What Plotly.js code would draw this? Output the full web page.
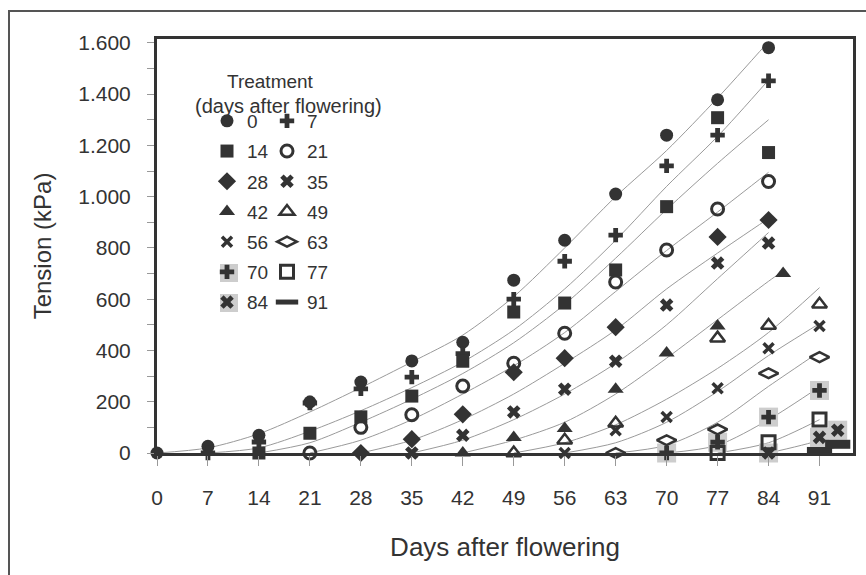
<!DOCTYPE html>
<html>
<head>
<meta charset="utf-8">
<script src="https://cdn.plot.ly/plotly-3.0.1.min.js"></script>
<style>html,body{margin:0;padding:0;background:#fff;}#chart{width:866px;height:575px;}</style>
</head>
<body>
<div id="chart"></div>
<script>
// Treatments (days after flowering)
const treatments = ["0","7","14","21","28","35","42","49","56","63","70","77","84","91"];
const yTickVals = [0,200,400,600,800,1000,1200,1400,1600];
const yTickText = ["0","200","400","600","800","1.000","1.200","1.400","1.600"];
const xTickVals = [0,7,14,21,28,35,42,49,56,63,70,77,84,91];

// Measured points (x = day, y = tension kPa)
const m0x  = [0,7,14,21,28,35,42,49,56,63,70,77,84];
const m0y  = [0,26,69,199,277,359,432,674,830,1010,1240,1378,1581];
const m7x  = [7,14,21,28,35,42,49,56,63,70,77,84];
const m7y  = [0,43,195,250,296,388,600,748,850,1120,1240,1452];
const m14x = [14,21,28,35,42,49,56,63,70,77,84];
const m14y = [0,77,141,222,358,550,585,714,961,1308,1172];
const m21x = [21,28,35,42,49,56,63,70,77,84];
const m21y = [0,100,149,261,350,467,667,792,952,1059];
const m28x = [28,35,42,49,56,63,77,84];
const m28y = [0,54,151,315,370,491,843,909];
const m35x = [35,42,49,56,63,70,77,84];
const m35y = [0,69,160,249,358,577,741,819];
const m42x = [42,49,56,63,70,77,86];
const m42y = [0,60,96,249,390,495,700];
const m49x = [49,56,63,77,84,91];
const m49y = [0,50,116,448,497,580];
const m56x = [56,63,70,77,84,91];
const m56y = [0,89,140,253,409,495];
const m63x = [63,70,77,84,91];
const m63y = [0,50,92,311,374];
const m70x = [70,77,84,91];
const m70y = [0,42,140,244];
const m77x = [77,84,91];
const m77y = [0,42,131];
const m84x = [84,91,93.5];
const m84y = [0,61,89];
const m91x = [91,93.5];
const m91y = [6,34];

// Fitted curves
const c0x  = [0,7,14,21,28,35,42,49,56,63,70,77,84];
const c0y  = [0,20,75,160,255,355,460,610,800,1000,1180,1385,1605];
const c7x  = [7,14,21,28,35,42,49,56,63,70,77,84];
const c7y  = [0,20,85,165,255,355,480,640,830,1040,1235,1455];
const c14x = [14,21,28,35,42,49,56,63,70,77,84];
const c14y = [0,40,120,210,310,430,580,760,950,1130,1300];
const c21x = [21,28,35,42,49,56,63,70,77,84];
const c21y = [0,50,130,230,340,470,630,790,940,1095];
const c28x = [28,35,42,49,56,63,70,77,84];
const c28y = [0,50,130,230,350,480,640,780,915];
const c35x = [35,42,49,56,63,70,77,84];
const c35y = [0,50,130,230,350,500,680,860];
const c42x = [42,49,56,63,70,77,84,86];
const c42y = [0,50,120,230,370,520,670,710];
const c49x = [49,56,63,70,77,84,91];
const c49y = [0,40,110,210,330,470,645];
const c56x = [56,63,70,77,84,91];
const c56y = [0,40,120,240,380,505];
const c63x = [63,70,77,84,91];
const c63y = [0,30,120,260,395];
const c70x = [70,77,84,91];
const c70y = [0,30,130,258];
const c77x = [77,84,91];
const c77y = [0,40,130];
const c84x = [84,91,94];
const c84y = [0,50,90];
const c91x = [91,94.5];
const c91y = [0,35];

const DARK = '#333333';
const CURVE = '#9a9a9a';
const GRAYBG = '#cdcdcd';
const FONT = 'Liberation Sans, Arial, sans-serif';

const curves = [
  [c0x,c0y],[c7x,c7y],[c14x,c14y],[c21x,c21y],[c28x,c28y],[c35x,c35y],[c42x,c42y],
  [c49x,c49y],[c56x,c56y],[c63x,c63y],[c70x,c70y],[c77x,c77y],[c84x,c84y],[c91x,c91y]
];
const points = [
  [m0x,m0y],[m7x,m7y],[m14x,m14y],[m21x,m21y],[m28x,m28y],[m35x,m35y],[m42x,m42y],
  [m49x,m49y],[m56x,m56y],[m63x,m63y],[m70x,m70y],[m77x,m77y],[m84x,m84y],[m91x,m91y]
];
const symbols = [
  {symbol:'circle', size:13},
  {symbol:'cross', size:12},
  {symbol:'square', size:13},
  {symbol:'circle-open', size:12, lw:3},
  {symbol:'diamond', size:14},
  {symbol:'x', size:12},
  {symbol:'triangle-up', size:14},
  {symbol:'triangle-up-open', size:13, lw:2.5},
  {symbol:'x-thin-open', size:10, lw:3.5},
  {symbol:'diamond-wide-open', size:14, lw:2.5},
  {symbol:'cross', size:12},
  {symbol:'square-open', size:13, lw:3},
  {symbol:'x', size:12},
  {symbol:'line-ew-open', size:18, lw:9}
];

const traces = [];
curves.forEach((c,i) => {
  traces.push({x:c[0], y:c[1], type:'scatter', mode:'lines', hoverinfo:'skip',
    line:{color:CURVE, width:1, shape:'spline', smoothing:0.8}, showlegend:false});
});
// gray background squares for 70 and 84
[10,12].forEach(i => {
  traces.push({x:points[i][0], y:points[i][1], type:'scatter', mode:'markers', cliponaxis:false,
    marker:{symbol:'square', size:19, color:GRAYBG}, showlegend:false, legendgroup:'g'+i, hoverinfo:'skip'});
});
points.forEach((p,i) => {
  const s = symbols[i];
  const open = s.symbol.indexOf('open') >= 0;
  const mk = {symbol:s.symbol, size:s.size, color:DARK};
  if (open) mk.line = {color:DARK, width:s.lw};
  else mk.line = {width:0};
  traces.push({x:p[0], y:p[1], type:'scatter', mode:'markers', cliponaxis:false,
    name:treatments[i], marker:mk, legendgroup:'g'+i,
    legend: (i % 2 === 0) ? 'legend' : 'legend2'});
});

function px2x(px){ return (px-157)/696; }
function py2y(py){ return (453-py)/414; }

const legendCommon = {
  bgcolor:'rgba(0,0,0,0)', borderwidth:0, font:{family:FONT, size:19, color:DARK},
  tracegroupgap:2.5, yanchor:'top', xanchor:'left', itemclick:false, itemdoubleclick:false
};

const layout = {
  width:866, height:575,
  margin:{l:157, r:13, t:39, b:122, pad:0},
  paper_bgcolor:'#fff', plot_bgcolor:'#fff',
  font:{family:FONT, color:DARK},
  showlegend:true,
  legend: Object.assign({}, legendCommon, {x:px2x(207), y:py2y(102)}),
  legend2: Object.assign({}, legendCommon, {x:px2x(267), y:py2y(102)}),
  xaxis:{range:[0,95.6], tickvals:xTickVals, ticks:'outside', ticklen:10, tickcolor:'#999', tickwidth:1,
    showline:true, mirror:true, linecolor:DARK, linewidth:3, showgrid:false, zeroline:false,
    tickfont:{family:FONT, size:21, color:DARK}, ticklabelstandoff:14,
    title:{text:'Days after flowering', font:{family:FONT, size:26, color:DARK}, standoff:30}},
  yaxis:{range:[0,1615], tickvals:yTickVals, ticktext:yTickText, ticks:'outside', ticklen:7, tickcolor:'#999', tickwidth:1,
    minor:{dtick:100, tick0:0, ticks:'outside', ticklen:7, tickcolor:'#999', tickwidth:1, showgrid:false},
    showline:true, mirror:true, linecolor:DARK, linewidth:3, showgrid:false, zeroline:false,
    tickfont:{family:FONT, size:21, color:DARK}, ticklabelstandoff:12,
    title:{text:'Tension (kPa)', font:{family:FONT, size:24, color:DARK}, standoff:20}},
  shapes:[
    {type:'rect', xref:'paper', yref:'paper', x0:px2x(9), x1:px2x(880), y0:py2y(590), y1:py2y(11),
      line:{color:'#555', width:2}, fillcolor:'rgba(0,0,0,0)', layer:'below'},
    {type:'rect', xref:'paper', yref:'paper', x0:px2x(220), x1:px2x(238), y0:py2y(282), y1:py2y(264),
      line:{width:0}, fillcolor:GRAYBG, layer:'below'},
    {type:'rect', xref:'paper', yref:'paper', x0:px2x(220), x1:px2x(238), y0:py2y(312), y1:py2y(294),
      line:{width:0}, fillcolor:GRAYBG, layer:'below'}
  ],
  annotations:[
    {text:'Treatment', xref:'paper', yref:'paper', x:px2x(270), y:py2y(81), showarrow:false,
      xanchor:'center', yanchor:'middle', font:{family:FONT, size:19, color:DARK}},
    {text:'(days after flowering)', xref:'paper', yref:'paper', x:px2x(288), y:py2y(106), showarrow:false,
      xanchor:'center', yanchor:'middle', font:{family:FONT, size:20, color:DARK}}
  ]
};

Plotly.newPlot('chart', traces, layout, {displayModeBar:false, staticPlot:true});
</script>
</body>
</html>
